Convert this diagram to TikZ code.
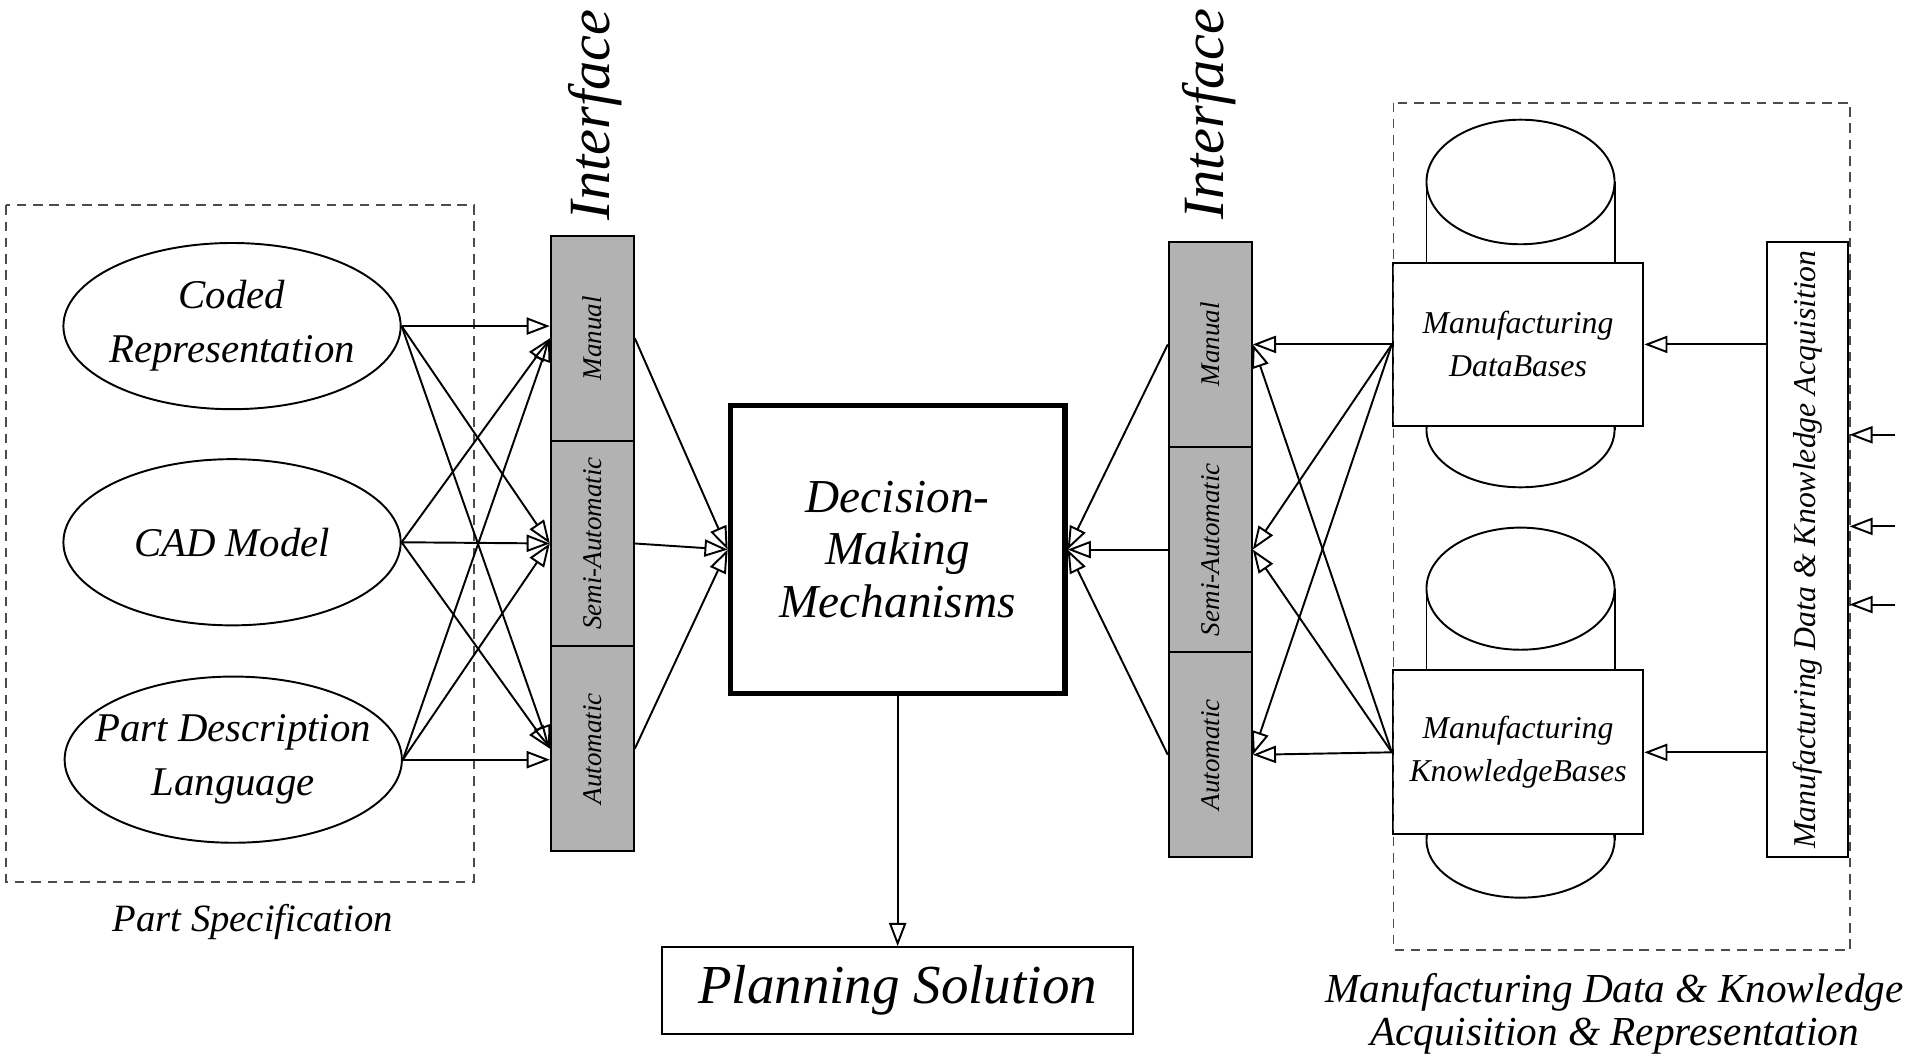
\documentclass[tikz,border=0pt]{standalone}
\usepackage{fontspec}
\setmainfont{Liberation Serif}
\usepackage{graphicx}
\usepackage{tikz}
\usetikzlibrary{shapes.geometric, arrows.meta}

\tikzset{
	spec/.style={ellipse, draw=black, minimum width=2.76cm, minimum height=1.36cm, inner xsep=-0.2cm, inner ysep=0pt, align=center, font=\fontsize{9.5}{12.6}\selectfont\itshape},
	mode/.style={rectangle, draw=black, fill=black!30, minimum width=0.68cm, minimum height=1.68cm, inner sep=0pt, font=\fontsize{6.3}{7}\selectfont\itshape},
	base/.style={rectangle, draw=black, fill=white, minimum width=2.05cm, minimum height=1.33cm, inner sep=0pt, align=center, font=\fontsize{7.4}{10}\selectfont\itshape},
	title/.style={rotate=90, inner sep=0pt, font=\fontsize{13.6}{14}\selectfont\itshape},
	tip/.style={-{Triangle[open, length=5.4pt, width=4pt]}},
	dashbox/.style={draw=black!70, dash pattern=on 2.2pt off 1.6pt}
}

\begin{document}
\begin{tikzpicture}[x=0.01cm, y=-0.01cm, line width=0.45pt]
			\useasboundingbox (0,0) rectangle (1568,863);
			
			% part specification
			\draw[dashbox] (5,168) rectangle (388,722);
			\node[spec] (cr) at (190,267) {Coded\\Representation};
			\node[spec] (cad) at (190,444) {CAD Model};
			\node[spec] (pdl) at (191,622) {Part Description\\Language};
			\node[font=\fontsize{9}{10}\selectfont\itshape] (ps) at (207,755) {Part Specification};
			
			% interfaces
			\node[mode] (lm) at (485,277) {\rotatebox{90}{Manual}};
			\node[mode] (ls) at (485,445) {\rotatebox{90}{Semi-Automatic}};
			\node[mode] (la) at (485,613) {\rotatebox{90}{Automatic}};
			\node[title] (li) at (487,94) {Interface};
			
			\node[mode] (rm) at (991,282) {\rotatebox{90}{Manual}};
			\node[mode] (rs) at (991,450) {\rotatebox{90}{Semi-Automatic}};
			\node[mode] (ra) at (991,618) {\rotatebox{90}{Automatic}};
			\node[title] (ri) at (990,93) {Interface};
			
			\node[draw=black, line width=1.2pt, minimum width=2.74cm, minimum height=2.36cm, align=center, font=\fontsize{11}{12.2}\selectfont\itshape] (dmm) at (735,450) {Decision-\\Making\\Mechanisms};
			\node[draw=black, minimum width=3.85cm, minimum height=0.71cm, font=\fontsize{12.8}{14}\selectfont\itshape] (plan) at (735,811) {Planning Solution};
			
			% data and knowledge bases
			\draw (1245,149) ellipse [x radius=77, y radius=51];
			\draw (1168,149) -- (1168,352) (1322,149) -- (1322,352);
			\draw (1245,352) ellipse [x radius=77, y radius=47];
			\draw (1245,482) ellipse [x radius=77, y radius=50];
			\draw (1168,482) -- (1168,688) (1322,482) -- (1322,688);
			\draw (1245,688) ellipse [x radius=77, y radius=47];
			
			\node[base] (db) at (1243,282) {Manufacturing\\DataBases};
			\node[base, minimum height=1.34cm] (kb) at (1243,616) {Manufacturing\\KnowledgeBases};
			\node[draw=black, minimum width=0.67cm, minimum height=5.03cm, inner sep=0pt, font=\fontsize{7.4}{8}\selectfont\itshape] (acq) at (1480,450) {\rotatebox{90}{Manufacturing Data \& Knowledge Acquisition}};
			
			\draw[dashbox] (1141,84) rectangle (1515,778);
			\node[align=center, font=\fontsize{9.6}{10}\selectfont\itshape] (mdk) at (1322,830) {Manufacturing Data \& Knowledge\\Acquisition \& Representation};
			
			\coordinate (in1) at (1552,356);
			\coordinate (in2) at (1552,431);
			\coordinate (in3) at (1552,495);
			
			\path (cr.east) edge[tip] (cr.east -| lm.west);
			\path (cr.east) edge[tip] (ls.west);
			\path (cr.east) edge[tip] (la.west);
			\path (cad.east) edge[tip] (lm.west);
			\path (cad.east) edge[tip] (ls.west);
			\path (cad.east) edge[tip] (la.west);
			\path (pdl.east) edge[tip] (lm.west);
			\path (pdl.east) edge[tip] (ls.west);
			\path (pdl.east) edge[tip] (pdl.east -| la.west);
			
			\path (lm.east) edge[tip] (dmm.west);
			\path (ls.east) edge[tip] (dmm.west);
			\path (la.east) edge[tip] (dmm.west);
			\path (rm.west) edge[tip] (dmm.east);
			\path (rs.west) edge[tip] (dmm.east);
			\path (ra.west) edge[tip] (dmm.east);
			\path (dmm.south) edge[tip] (plan.north);
			
			\path (db.west) edge[tip] (rm.east);
			\path (db.west) edge[tip] (rs.east);
			\path (db.west) edge[tip] (ra.east);
			\path (kb.west) edge[tip] (rm.east);
			\path (kb.west) edge[tip] (rs.east);
			\path (kb.west) edge[tip] (ra.east);
			
			\path (acq.west |- db.east) edge[tip] (db.east);
			\path (acq.west |- kb.east) edge[tip] (kb.east);
			\path (in1) edge[tip] (in1 -| acq.east);
			\path (in2) edge[tip] (in2 -| acq.east);
			\path (in3) edge[tip] (in3 -| acq.east);
			\end{tikzpicture}
\end{document}
